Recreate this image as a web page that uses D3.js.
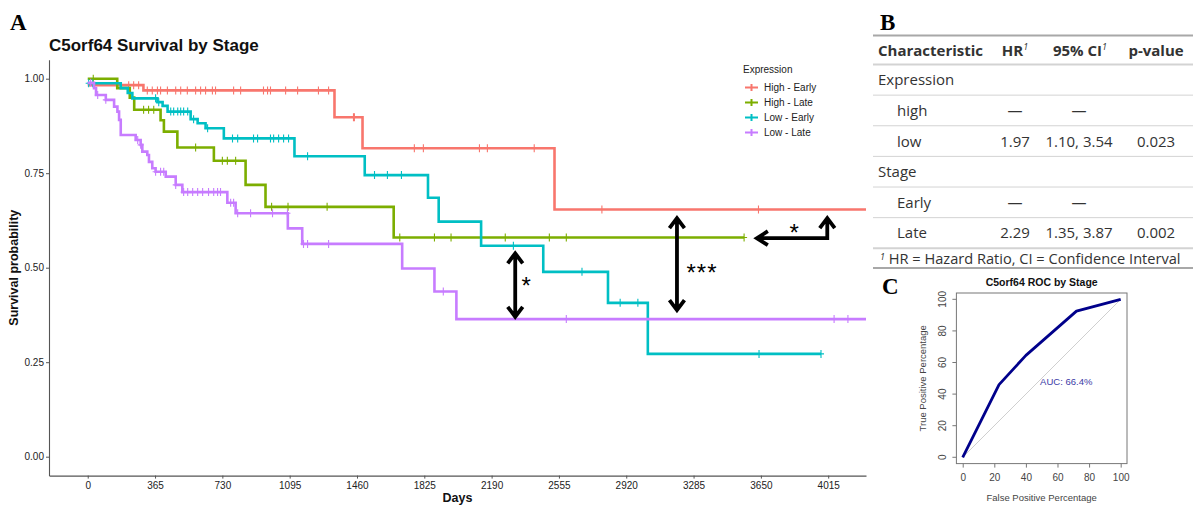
<!DOCTYPE html>
<html>
<head>
<meta charset="utf-8">
<script src="https://cdn.jsdelivr.net/npm/d3@7"></script>
<style>
  body { margin: 0; background: #fff; }
  svg { display: block; }
  text { font-family: "Liberation Sans", Arial, sans-serif; }
  .tbl text { font-family: "Open Sans", "Noto Sans", sans-serif; fill: #333; }
</style>
</head>
<body>
<div id="fig"></div>
<script>
// ---- panel A : Kaplan-Meier data ----
const groups = ['High - Early', 'High - Late', 'Low - Early', 'Low - Late']
const groupColors = ['#F8766D', '#7CAE00', '#00BFC4', '#C77CFF']

// [day, survival from that day on]
const highEarlySteps = [[0, 0.983], [302, 0.969], [1338, 0.898], [1490, 0.816], [2531, 0.654]]
const highLateSteps = [[0, 1], [160, 0.975], [228, 0.95], [252, 0.918], [395, 0.89], [413, 0.86],
  [486, 0.818], [684, 0.783], [856, 0.719], [964, 0.661], [1659, 0.58]]
const lowEarlySteps = [[0, 0.988], [179, 0.975], [217, 0.962], [242, 0.948], [378, 0.938], [406, 0.928],
  [433, 0.913], [558, 0.893], [596, 0.882], [639, 0.869], [738, 0.842], [1121, 0.795], [1502, 0.745],
  [1845, 0.685], [1903, 0.622], [2133, 0.558], [2470, 0.489], [2821, 0.407], [3037, 0.272]]
const lowLateSteps = [[0, 0.989], [34, 0.975], [45, 0.957], [98, 0.944], [143, 0.926], [161, 0.913],
  [170, 0.891], [179, 0.851], [260, 0.838], [287, 0.825], [296, 0.807], [323, 0.798], [332, 0.78],
  [350, 0.763], [368, 0.754], [423, 0.741], [477, 0.719], [513, 0.70], [757, 0.672], [802, 0.644],
  [1085, 0.604], [1163, 0.563], [1705, 0.498], [1880, 0.437], [1999, 0.364]]
const lastDays = [4220, 3559, 3976, 4220]

// censored times
const highEarlyCensor = [222, 249, 276, 323, 350, 378, 395, 432, 477, 504, 540, 585, 612, 639, 676, 693,
  791, 829, 953, 975, 991, 1073, 1138, 1251, 1306, 1441, 1446, 1771, 1820, 2124, 2167, 2421, 2788, 3637]
const highLateCensor = [30, 303, 330, 358, 585, 730, 757, 802, 997, 1086, 1298, 1692, 1880, 1970, 2264,
  2503, 2595, 3559]
const lowEarlyCensor = [5, 27, 368, 385, 450, 466, 488, 504, 520, 542, 574, 650, 785, 813, 899, 921, 991,
  1008, 1035, 1062, 1089, 1192, 1555, 1625, 1701, 2308, 2680, 2887, 2983, 3640, 3976]
const lowLateCensor = [16, 54, 98, 271, 287, 368, 395, 412, 477, 520, 542, 569, 596, 623, 655, 683, 704,
  720, 775, 791, 813, 883, 1002, 1083, 1170, 1192, 1306, 1928, 2595, 4047, 4122]

const dayTicks = [0, 365, 730, 1095, 1460, 1825, 2190, 2555, 2920, 3285, 3650, 4015]
const survTicks = [0, 0.25, 0.5, 0.75, 1]

// ---- panel B : Cox table ----
const rowLabels = ['Expression', 'high', 'low', 'Stage', 'Early', 'Late']
const rowIndent = [false, true, true, false, true, true]
const hrValues = ['', '—', '1.97', '', '—', '2.29']
const ciValues = ['', '—', '1.10, 3.54', '', '—', '1.35, 3.87']
const pValues = ['', '', '0.023', '', '', '0.002']

// ---- panel C : ROC ----
const rocFpr = [0, 23, 40, 72, 100]
const rocTpr = [0, 46, 64.5, 92.5, 100]
const rocTicks = [0, 20, 40, 60, 80, 100]

const stepsByGroup = [highEarlySteps, highLateSteps, lowEarlySteps, lowLateSteps]
const censorByGroup = [highEarlyCensor, highLateCensor, lowEarlyCensor, lowLateCensor]

let svg = d3.select('#fig').append('svg')
  .attr('width', 1193)
  .attr('height', 506)

// ================= panel A =================
let x = d3.scaleLinear().domain([-210, 4220]).range([49, 866])
let y = d3.scaleLinear().domain([-0.05, 1.05]).range([475.6, 59.8])

svg.append('text').attr('x', 10).attr('y', 30)
  .style('font-family', '"Liberation Serif", serif').style('font-weight', 'bold').style('font-size', '23px')
  .text('A')
svg.append('text').attr('x', 49).attr('y', 51)
  .style('font-weight', 'bold').style('font-size', '17px').attr('fill', '#111')
  .text('C5orf64 Survival by Stage')

svg.append('defs').append('clipPath').attr('id', 'clipA')
  .append('rect').attr('x', 49).attr('y', 55).attr('width', 817).attr('height', 425)

let yAxis = svg.append('g')
  .attr('transform', 'translate(49,0)')
  .call(d3.axisLeft(y).tickValues(survTicks).tickFormat(d3.format('.2f')).tickSize(3).tickSizeOuter(0).tickPadding(2))
let xAxis = svg.append('g')
  .attr('transform', 'translate(0,475.6)')
  .call(d3.axisBottom(x).tickValues(dayTicks).tickFormat(d3.format('d')).tickSize(3).tickSizeOuter(0).tickPadding(3))
;[yAxis, xAxis].forEach(a => {
  a.select('.domain').attr('stroke', '#555').attr('stroke-width', 1.1)
  a.selectAll('.tick line').attr('stroke', '#555')
  a.selectAll('.tick text').attr('fill', '#222').style('font-size', '10px')
})

svg.append('text')
  .attr('transform', 'translate(18,' + ((59.8 + 475.6) / 2) + ') rotate(-90)')
  .attr('text-anchor', 'middle')
  .style('font-weight', 'bold').style('font-size', '12.5px').attr('fill', '#111')
  .text('Survival probability')
svg.append('text').attr('x', (49 + 866) / 2).attr('y', 502)
  .attr('text-anchor', 'middle')
  .style('font-weight', 'bold').style('font-size', '12.5px').attr('fill', '#111')
  .text('Days')

function survAt(steps, t) {
  let s = steps[0][1]
  steps.forEach(p => { if (p[0] <= t) s = p[1] })
  return s
}

let curves = svg.append('g').attr('clip-path', 'url(#clipA)')
let stepLine = d3.line().x(d => x(d[0])).y(d => y(d[1])).curve(d3.curveStepAfter)

groups.forEach((g, i) => {
  let steps = stepsByGroup[i]
  let pts = steps.concat([[lastDays[i], steps[steps.length - 1][1]]])
  curves.append('path')
    .attr('d', stepLine(pts))
    .attr('fill', 'none')
    .attr('stroke', groupColors[i])
    .attr('stroke-width', 2.6)
  curves.selectAll('.c' + i)
    .data(censorByGroup[i])
    .enter()
    .append('path')
    .attr('class', 'c' + i)
    .attr('d', d => {
      let cx = x(d), cy = y(survAt(steps, d))
      return 'M' + (cx - 3) + ',' + cy + 'H' + (cx + 3) + 'M' + cx + ',' + (cy - 4) + 'V' + (cy + 4)
    })
    .attr('stroke', groupColors[i])
    .attr('stroke-width', 1.1)
})

// legend
let legend = svg.append('g')
legend.append('text').attr('x', 743).attr('y', 72.5).style('font-size', '10px').attr('fill', '#222').text('Expression')
groups.forEach((g, i) => {
  let ly = 87.5 + i * 15
  legend.append('path')
    .attr('d', 'M745,' + ly + 'H758M751.5,' + (ly - 3.5) + 'V' + (ly + 3.5))
    .attr('stroke', groupColors[i]).attr('stroke-width', 2)
  legend.append('text').attr('x', 764).attr('y', ly + 3.6).style('font-size', '10px').attr('fill', '#222').text(g)
})

// significance arrows (positions in data units)
let arrows = svg.append('g').attr('fill', 'none').attr('stroke', '#000')
  .attr('stroke-width', 3.8).attr('stroke-linejoin', 'miter').attr('stroke-linecap', 'butt')
function upHead(px, py) { return 'M' + (px - 7.5) + ',' + (py + 10) + 'L' + px + ',' + py + 'L' + (px + 7.5) + ',' + (py + 10) }
function downHead(px, py) { return 'M' + (px - 7.5) + ',' + (py - 10) + 'L' + px + ',' + py + 'L' + (px + 7.5) + ',' + (py - 10) }
function leftHead(px, py) { return 'M' + (px + 11) + ',' + (py - 7) + 'L' + px + ',' + py + 'L' + (px + 11) + ',' + (py + 7) }

let a1x = x(2318), a1t = y(0.538), a1b = y(0.37)
arrows.append('path').attr('d', 'M' + a1x + ',' + a1t + 'V' + a1b + upHead(a1x, a1t) + downHead(a1x, a1b))
let a2x = x(3195), a2t = y(0.631), a2b = y(0.388)
arrows.append('path').attr('d', 'M' + a2x + ',' + a2t + 'V' + a2b + upHead(a2x, a2t) + downHead(a2x, a2b))
let a3l = x(3628), a3r = x(4010), a3y = y(0.578), a3t = y(0.631)
arrows.append('path').attr('d', 'M' + a3l + ',' + a3y + 'H' + a3r + 'V' + a3t + upHead(a3r, a3t) + leftHead(a3l, a3y))

let stars = svg.append('g').style('font-family', '"Liberation Sans", Arial, sans-serif')
  .style('font-size', '24px').attr('fill', '#000').attr('text-anchor', 'middle')
stars.append('text').attr('x', x(2378)).attr('y', y(0.463) + 12).text('*')
stars.append('text').attr('x', x(3331)).attr('y', y(0.497) + 12).style('letter-spacing', '1px').text('***')
stars.append('text').attr('x', x(3830)).attr('y', y(0.602) + 12).text('*')

// ================= panel B =================
svg.append('text').attr('x', 880).attr('y', 30)
  .style('font-family', '"Liberation Serif", serif').style('font-weight', 'bold').style('font-size', '23px')
  .text('B')

let tbl = svg.append('g').attr('class', 'tbl')
let colHR = 1015, colCI = 1079, colP = 1156
let rowTop = 64.5, rowH = 30.63
let fs = '15px'

tbl.append('line').attr('x1', 873).attr('x2', 1193).attr('y1', 35.5).attr('y2', 35.5).attr('stroke', '#a8a8a8').attr('stroke-width', 2)
tbl.append('line').attr('x1', 873).attr('x2', 1193).attr('y1', 64.5).attr('y2', 64.5).attr('stroke', '#d3d3d3').attr('stroke-width', 2)

let head = tbl.append('g').style('font-weight', 'bold').style('font-size', fs)
head.append('text').attr('x', 878).attr('y', 55.5).text('Characteristic')
let hr = head.append('text').attr('x', colHR).attr('y', 55.5).attr('text-anchor', 'middle')
hr.append('tspan').text('HR')
hr.append('tspan').attr('dy', -6).style('font-size', '9px').style('font-style', 'italic').style('font-weight', 'normal').text('1')
let ci = head.append('text').attr('x', colCI + 1).attr('y', 55.5).attr('text-anchor', 'middle')
ci.append('tspan').text('95% CI')
ci.append('tspan').attr('dy', -6).style('font-size', '9px').style('font-style', 'italic').style('font-weight', 'normal').text('1')
head.append('text').attr('x', colP).attr('y', 55.5).attr('text-anchor', 'middle').text('p-value')

rowLabels.forEach((r, i) => {
  let cy = rowTop + rowH * (i + 0.5)
  let ty = cy + 5.5
  tbl.append('text').attr('x', rowIndent[i] ? 897 : 878).attr('y', ty).style('font-size', fs).text(r)
  tbl.append('text').attr('x', colHR).attr('y', ty).attr('text-anchor', 'middle').style('font-size', fs).text(hrValues[i])
  tbl.append('text').attr('x', colCI).attr('y', ty).attr('text-anchor', 'middle').style('font-size', fs).text(ciValues[i])
  tbl.append('text').attr('x', colP).attr('y', ty).attr('text-anchor', 'middle').style('font-size', fs).text(pValues[i])
  let ly = rowTop + rowH * (i + 1)
  tbl.append('line').attr('x1', 873).attr('x2', 1193).attr('y1', ly).attr('y2', ly)
    .attr('stroke', '#d3d3d3').attr('stroke-width', i === rowLabels.length - 1 ? 2 : 1)
})
let foot = tbl.append('text').attr('x', 880).attr('y', 263.5).style('font-size', '14.6px')
foot.append('tspan').attr('dy', -4).style('font-size', '9px').style('font-style', 'italic').text('1')
foot.append('tspan').attr('dy', 4).text(' HR = Hazard Ratio, CI = Confidence Interval')
tbl.append('line').attr('x1', 873).attr('x2', 1193).attr('y1', 268).attr('y2', 268).attr('stroke', '#a8a8a8').attr('stroke-width', 2)

// ================= panel C =================
svg.append('text').attr('x', 882).attr('y', 294)
  .style('font-family', '"Liberation Serif", serif').style('font-weight', 'bold').style('font-size', '23px')
  .text('C')

let rx = d3.scaleLinear().domain([-4, 104]).range([956.4, 1127])
let ry = d3.scaleLinear().domain([-4, 104]).range([463.6, 293])

svg.append('text').attr('x', (956.4 + 1127) / 2).attr('y', 285.5)
  .attr('text-anchor', 'middle').style('font-weight', 'bold').style('font-size', '10.5px').attr('fill', '#111')
  .text('C5orf64 ROC by Stage')

svg.append('line')
  .attr('x1', rx(0)).attr('y1', ry(0)).attr('x2', rx(100)).attr('y2', ry(100))
  .attr('stroke', '#cfcfcf').attr('stroke-width', 1)

let rocLine = d3.line().x((d, i) => rx(rocFpr[i])).y((d, i) => ry(rocTpr[i]))
svg.append('path').attr('d', rocLine(rocFpr))
  .attr('fill', 'none').attr('stroke', '#00008b').attr('stroke-width', 2.8).attr('stroke-linejoin', 'round')

svg.append('rect').attr('x', 956.4).attr('y', 293).attr('width', 1127 - 956.4).attr('height', 463.6 - 293)
  .attr('fill', 'none').attr('stroke', '#777').attr('stroke-width', 1)

let rxAxis = svg.append('g').attr('transform', 'translate(0,463.6)')
  .call(d3.axisBottom(rx).tickValues(rocTicks).tickSize(4).tickSizeOuter(0).tickPadding(6))
let ryAxis = svg.append('g').attr('transform', 'translate(956.4,0)')
  .call(d3.axisLeft(ry).tickValues(rocTicks).tickSize(4).tickSizeOuter(0).tickPadding(6))
;[rxAxis, ryAxis].forEach(a => {
  a.select('.domain').remove()
  a.selectAll('.tick line').attr('stroke', '#777')
  a.selectAll('.tick text').attr('fill', '#444').style('font-size', '10px')
})
ryAxis.selectAll('.tick').attr('transform', 'translate(0,0)')
ryAxis.selectAll('.tick line').attr('y1', d => ry(d)).attr('y2', d => ry(d))
ryAxis.selectAll('.tick text')
  .attr('x', -14).attr('y', d => ry(d) + 3.5).attr('dy', '0').attr('text-anchor', 'middle')
  .attr('transform', d => 'rotate(-90,-14,' + ry(d) + ')')

svg.append('text').attr('x', (956.4 + 1127) / 2).attr('y', 500.5)
  .attr('text-anchor', 'middle').style('font-size', '9.5px').attr('fill', '#444')
  .text('False Positive Percentage')
svg.append('text')
  .attr('transform', 'translate(926,' + ((293 + 463.6) / 2) + ') rotate(-90)')
  .attr('text-anchor', 'middle').style('font-size', '9.5px').attr('fill', '#444')
  .text('True Positive Percentage')
svg.append('text').attr('x', rx(49)).attr('y', ry(45.5)).style('font-size', '9.5px').attr('fill', '#3a3aa6')
  .text('AUC: 66.4%')
</script>
</body>
</html>
